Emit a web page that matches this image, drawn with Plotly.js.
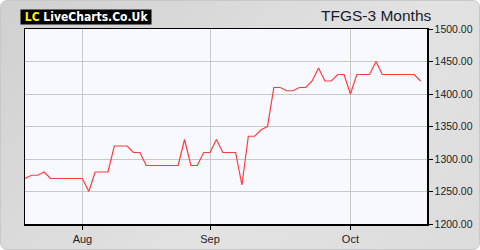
<!DOCTYPE html>
<html>
<head>
<meta charset="utf-8">
<script src="https://cdn.plot.ly/plotly-3.0.1.min.js"></script>
<style>
html,body{margin:0;padding:0;background:#ffffff;}
#wrap{position:absolute;left:0;top:0;width:478px;height:248px;border:1px solid #c8c8c8;border-radius:7px;
background:linear-gradient(135deg,#d0d0d0 0%,#e2e2e2 60%,#dcdcdc 100%);overflow:hidden;}
#chart{position:absolute;left:-1px;top:-1px;width:480px;height:250px;}
</style>
</head>
<body>
<div id="wrap"><div id="chart"></div></div>
<script>
const dates = [
 "2025-07-21","2025-07-22","2025-07-23","2025-07-24","2025-07-25","2025-07-28","2025-07-29","2025-07-30","2025-07-31",
 "2025-08-01","2025-08-04","2025-08-05","2025-08-06","2025-08-07","2025-08-08","2025-08-11","2025-08-12","2025-08-13","2025-08-14","2025-08-15",
 "2025-08-18","2025-08-19","2025-08-20","2025-08-21","2025-08-22","2025-08-26","2025-08-27","2025-08-28","2025-08-29",
 "2025-09-01","2025-09-02","2025-09-03","2025-09-04","2025-09-05","2025-09-08","2025-09-09","2025-09-10","2025-09-11","2025-09-12",
 "2025-09-15","2025-09-16","2025-09-17","2025-09-18","2025-09-19","2025-09-22","2025-09-23","2025-09-24","2025-09-25","2025-09-26",
 "2025-09-29","2025-09-30",
 "2025-10-01","2025-10-02","2025-10-03","2025-10-06","2025-10-07","2025-10-08","2025-10-09","2025-10-10","2025-10-13","2025-10-14",
 "2025-10-15","2025-10-16","2025-10-17"
];
const prices = [
 1270,1275,1275,1280,1270,1270,1270,1270,1270,
 1270,1250,1280,1280,1280,1320,1320,1320,1310,1310,
 1290,1290,1290,1290,1290,1290,1330,1290,1290,
 1310,1310,1330,1310,1310,1310,1260,1335,1335,1345,
 1350,1410,1410,1405,1405,1410,1410,1420,1440,1420,
 1420,1430,
 1430,1400,1430,1430,1430,1450,1430,1430,1430,1430,
 1430,1430,1420
];
const tickDates = ["2025-08-01","2025-09-01","2025-10-01"];
const tickLabels = ["Aug","Sep","Oct"];
const yTicks = [1200,1250,1300,1350,1400,1450,1500];
const yTickLabels = ["1200.00","1250.00","1300.00","1350.00","1400.00","1450.00","1500.00"];
const chartTitle = "TFGS-3 Months";

const trace = {
  x: dates, y: prices, type: "scatter", mode: "lines",
  line: {color: "#ff3b3b", width: 1.2},
  hoverinfo: "skip"
};

const layout = {
  width: 480, height: 250,
  margin: {l: 25, r: 53, t: 29, b: 26, pad: 0},
  paper_bgcolor: "rgba(0,0,0,0)",
  plot_bgcolor: "#f7f9ff",
  showlegend: false,
  font: {family: "Liberation Sans, Arial, sans-serif", color: "#222", size: 11},
  xaxis: {
    type: "category",
    range: [0, dates.length - 1],
    tickmode: "array", tickvals: tickDates, ticktext: tickLabels,
    showgrid: true, gridcolor: "#c8c8c8", gridwidth: 1,
    showline: true, linecolor: "#000", linewidth: 1.5, mirror: true,
    ticks: "outside", ticklen: 4, tickcolor: "#000",
    tickfont: {size: 11, color: "#222"},
    zeroline: false, fixedrange: true
  },
  yaxis: {
    side: "right",
    range: [1200, 1500],
    tickmode: "array", tickvals: yTicks, ticktext: yTickLabels,
    showgrid: true, gridcolor: "#c8c8c8", gridwidth: 1,
    showline: true, linecolor: "#000", linewidth: 1.5, mirror: true,
    ticks: "outside", ticklen: 4, tickcolor: "#000",
    tickfont: {size: 10.5, color: "#222"},
    zeroline: false, fixedrange: true
  },
  annotations: [
    {
      xref: "paper", yref: "paper", x: 1.0, y: 1, yshift: 14, xshift: 6,
      xanchor: "right", yanchor: "middle", showarrow: false,
      text: chartTitle,
      font: {size: 15.5, color: "#1a1a2a", family: "Liberation Sans, Arial, sans-serif"}
    },
    {
      xref: "paper", yref: "paper", x: 0, y: 1, yshift: 4, xshift: -5,
      xanchor: "left", yanchor: "bottom", showarrow: false,
      bgcolor: "#000000", borderpad: 0,
      text: "<b>&nbsp;<span style='color:#ffee00'>LC</span> LiveCharts.Co.Uk&nbsp;</b>",
      font: {size: 12, color: "#ffffff", family: "DejaVu Sans Condensed, DejaVu Sans, sans-serif"}
    }
  ]
};

Plotly.newPlot("chart", [trace], layout, {displayModeBar: false, staticPlot: true});
</script>
</body>
</html>
